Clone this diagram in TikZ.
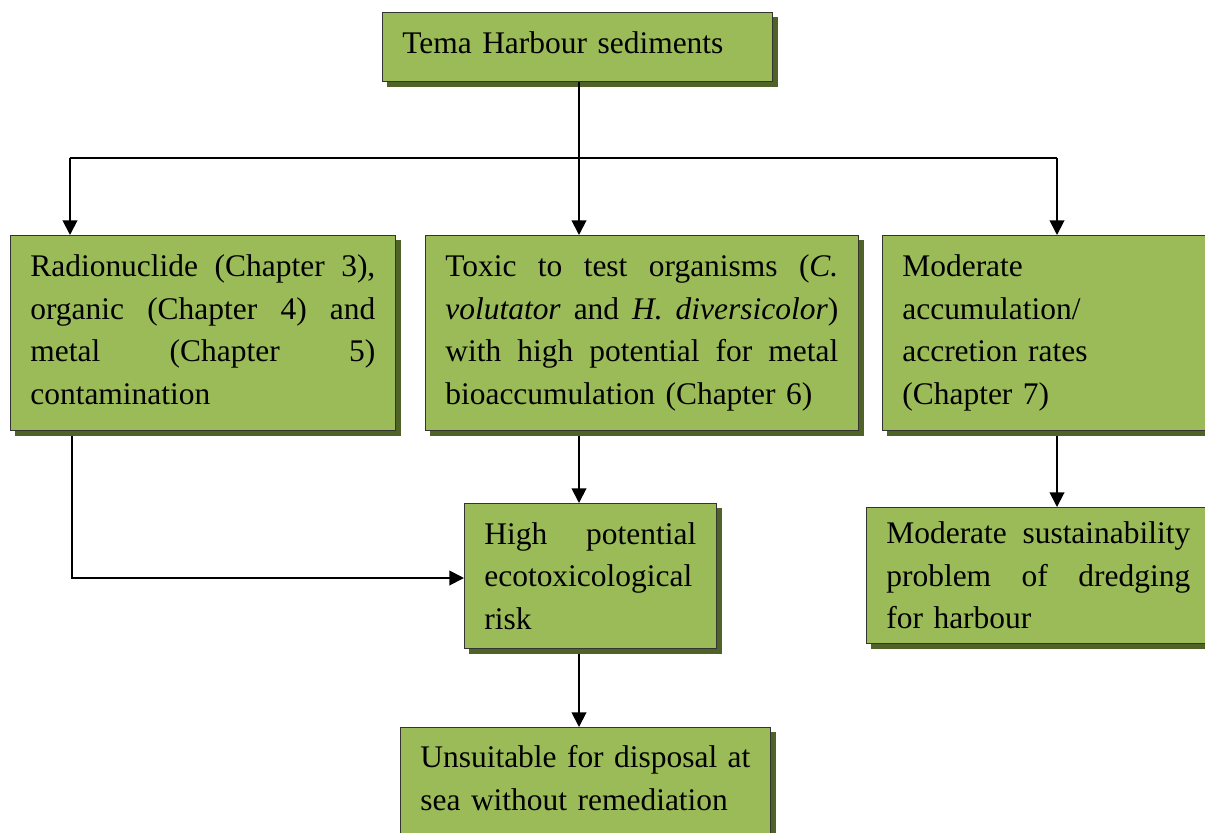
\documentclass[tikz,border=0pt]{standalone}
\usepackage{fontspec}
\setmainfont{Liberation Serif}
\usetikzlibrary{arrows.meta,shadows}
\definecolor{boxgreen}{HTML}{9BBB59}
\definecolor{shadowgreen}{HTML}{4F6228}
\newcommand{\jline}[2]{\leavevmode\hbox to #1{\spaceskip=0.25em plus 1fil\relax #2}}
\begin{document}
\begin{tikzpicture}[x=0.75pt,y=-0.75pt,
  greenbox/.style={draw=black!80, line width=0.5pt, fill=boxgreen,
    copy shadow={shadow xshift=3.75pt, shadow yshift=-3.75pt, fill=shadowgreen, draw=shadowgreen},
    anchor=north west, inner xsep=15pt, inner ysep=0pt, align=left,
    font=\fontsize{23.6pt}{31.9pt}\selectfont},
  conn/.style={line width=1.4pt, black},
  arr/.style={conn, -{Triangle[width=11pt,length=11pt]}}]
\path[use as bounding box, clip] (0,0) rectangle (1205,832);
\fill[white] (0,0) rectangle (1205,832);

% boxes
\node[greenbox, minimum width=292.5pt, minimum height=51.75pt, text width=262.5pt, text depth=6pt] (top) at (382,12) {Tema Harbour sediments};
\node[greenbox, minimum width=288.75pt, minimum height=146.25pt, text width=258.75pt] (A) at (10,235)
  {\jline{258.75pt}{Radionuclide (Chapter 3),}\\ \jline{258.75pt}{organic (Chapter 4) and}\\ \jline{258.75pt}{metal (Chapter 5)}\\ contamination\vphantom{()}};
\node[greenbox, minimum width=324.75pt, minimum height=146.25pt, text width=294.75pt] (B) at (425,235)
  {\jline{294.75pt}{Toxic to test organisms (\textit{C.}}\\ \jline{294.75pt}{\textit{volutator} and \textit{H. diversicolor})}\\ \jline{294.75pt}{with high potential for metal}\\ bioaccumulation (Chapter 6)};
\node[greenbox, minimum width=247.5pt, minimum height=146.25pt, text width=217.5pt] (C) at (882,235)
  {Moderate\\ accumulation/\\ accretion rates\\ (Chapter 7)};
\node[greenbox, minimum width=189pt, minimum height=108.75pt, text width=159pt] (D) at (464,503)
  {\jline{159pt}{High potential}\\ \jline{159pt}{ecotoxicological}\\ risk};
\node[greenbox, minimum width=258pt, minimum height=102pt, text width=228pt] (E) at (866,507)
  {\jline{228pt}{Moderate sustainability}\\ \jline{228pt}{problem of dredging}\\ for harbour};
\node[greenbox, minimum width=277.5pt, text width=247.5pt, inner ysep=13.5pt] (F) at (400,727)
  {\jline{247.5pt}{Unsuitable for disposal at}\\ sea without remediation\\ \vphantom{X}};

% connectors
\coordinate (j) at (579,158);
\coordinate (jl) at (70,158);
\coordinate (jr) at (1057,158);
\coordinate (ak) at (72,578);
\draw[conn] (top.south -| j) -- (j);
\draw[conn] (jl) -- (jr);
\draw[arr] (jl) -- (jl |- A.north);
\draw[arr] (j) -- (j |- B.north);
\draw[arr] (jr) -- (jr |- C.north);
\draw[arr] ([yshift=-3.75pt]B.south -| j) -- (D.north -| j);
\draw[arr] ([yshift=-3.75pt]A.south -| ak) -- (ak) -- (ak -| D.west);
\draw[arr] ([yshift=-3.75pt]D.south -| j) -- (F.north -| j);
\draw[arr] ([yshift=-3.75pt]C.south -| jr) -- (E.north -| jr);
\end{tikzpicture}
\end{document}
